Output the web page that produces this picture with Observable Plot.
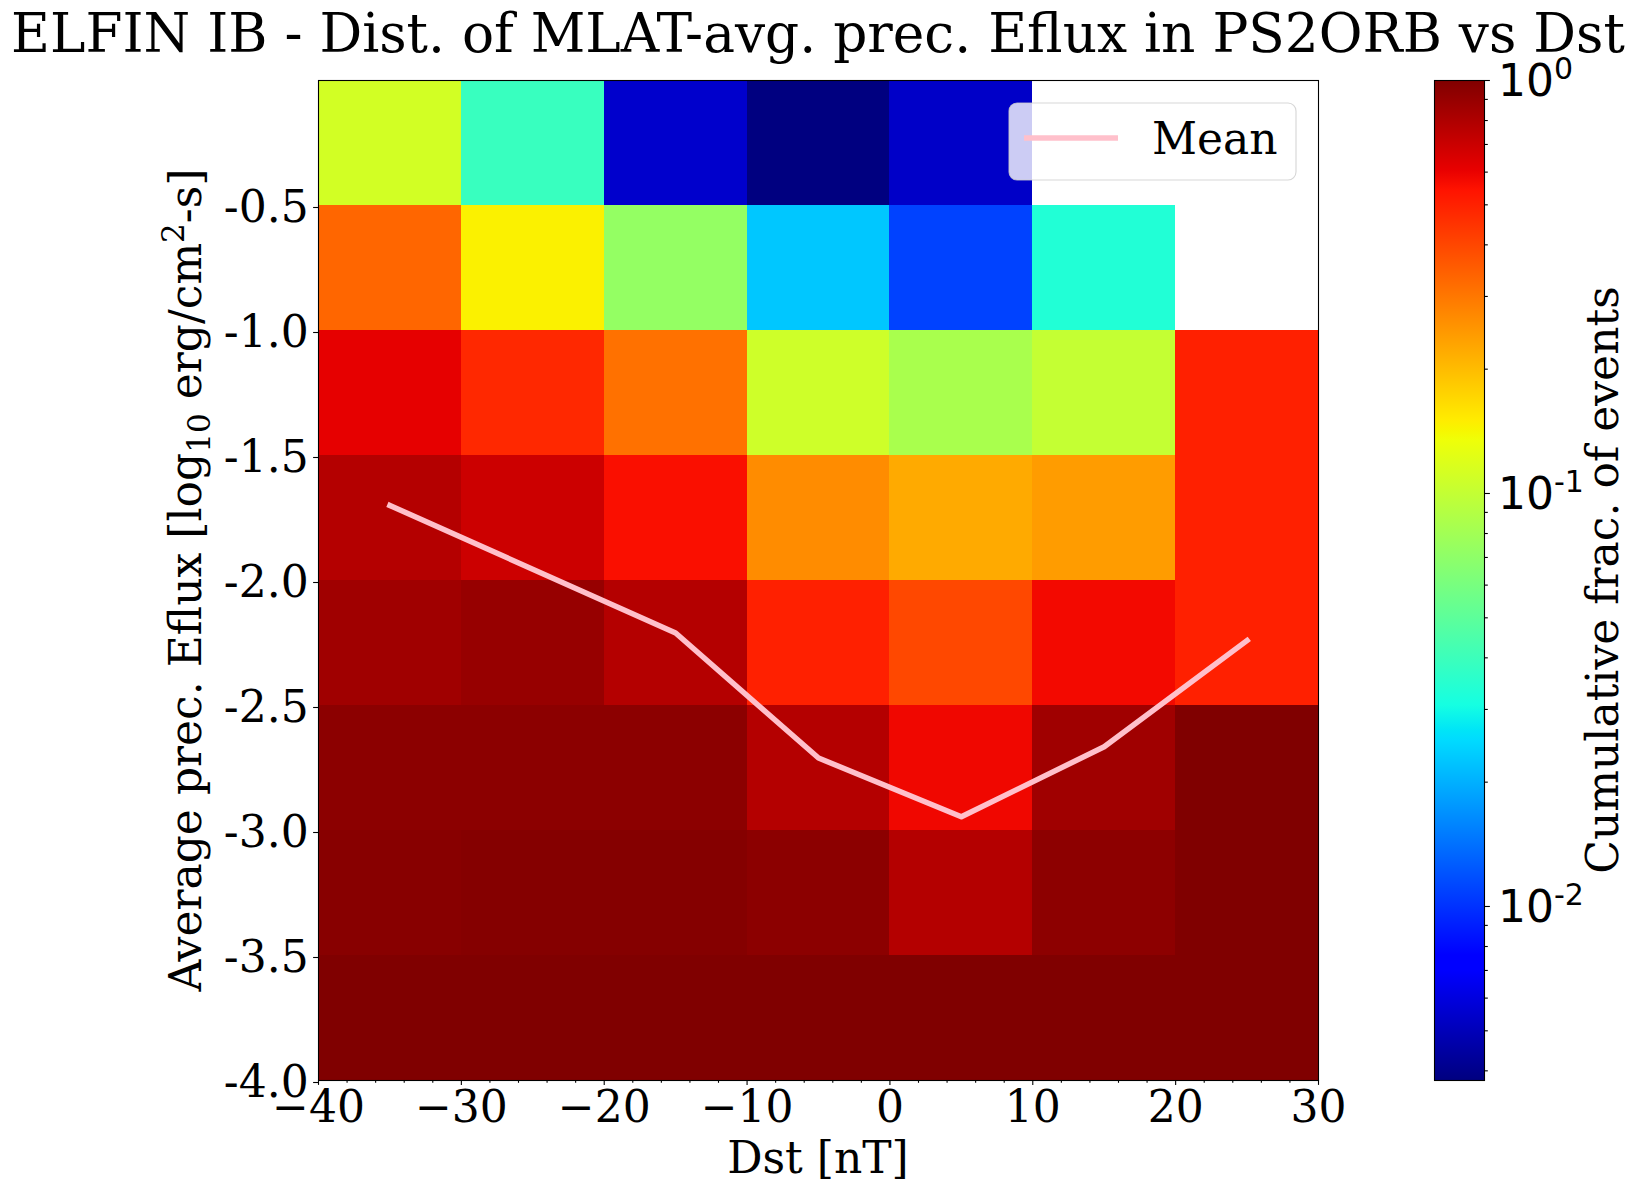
<!DOCTYPE html>
<html><head><meta charset="utf-8">
<script src="https://cdn.jsdelivr.net/npm/d3@7"></script>
<script src="https://cdn.jsdelivr.net/npm/@observablehq/plot@0.6"></script>
<style>
html,body{margin:0;padding:0;background:#fff;overflow:hidden;}
#wrap{position:relative;width:1638px;height:1192px;}
#wrap svg{position:absolute;left:0;top:0;}
</style></head><body><div id="wrap"></div>
<script>
// ---- data ----
const dstEdges = [-40, -30, -20, -10, 0, 10, 20, 30];
const efluxEdges = [-4.0, -3.5, -3.0, -2.5, -2.0, -1.5, -1.0, -0.5, 0.0];
// cumulative fraction of events per Dst bin, from lowest Eflux bin (-4.0..-3.5) upward
const fracDstM40 = [1, 0.962, 0.940, 0.855, 0.778, 0.612, 0.332, 0.111];
const fracDstM30 = [1, 0.972, 0.940, 0.895, 0.692, 0.477, 0.146, 0.039];
const fracDstM20 = [1, 0.972, 0.940, 0.778, 0.554, 0.310, 0.0728, 0.00548];
const fracDstM10 = [1, 0.940, 0.778, 0.501, 0.265, 0.1076, 0.0226, 0.00379];
const fracDst0   = [1, 0.778, 0.582, 0.396, 0.222, 0.0841, 0.01094, 0.00536];
const fracDst10  = [1, 0.935, 0.855, 0.573, 0.241, 0.1006, 0.0334, null];
const fracDst20  = [1, 1, 1, 0.501, 0.501, 0.501, null, null];
const meanDst   = [-35, -15, -5, 5, 15, 25];
const meanEflux = [-1.70, -2.21, -2.71, -2.945, -2.665, -2.24];
const xTicks = [-40, -30, -20, -10, 0, 10, 20, 30];
const xMinorTicks = [-38,-36,-34,-32,-28,-26,-24,-22,-18,-16,-14,-12,-8,-6,-4,-2,2,4,6,8,12,14,16,18,22,24,26,28];
const yTicks = [-4.0, -3.5, -3.0, -2.5, -2.0, -1.5, -1.0, -0.5];
const cbMin = 0.00379;
const cbMajorTicks = [0.01, 0.1, 1];
const cbMajorExp = ["-2", "-1", "0"];
const cbMinorTicks = [0.004,0.005,0.006,0.007,0.008,0.009,0.02,0.03,0.04,0.05,0.06,0.07,0.08,0.09,0.2,0.3,0.4,0.5,0.6,0.7,0.8,0.9];

// ---- jet colormap ----
const jetR = [[0,0],[0.35,0],[0.66,1],[0.89,1],[1,0.5]];
const jetG = [[0,0],[0.125,0],[0.375,1],[0.64,1],[0.91,0],[1,0]];
const jetB = [[0,0.5],[0.11,1],[0.34,1],[0.65,0],[1,0]];
function pw(t, pts){ t = Math.max(0, Math.min(1, t));
  for (let i = 1; i < pts.length; i++) if (t <= pts[i][0]) { const [a0,b0] = pts[i-1], [a1,b1] = pts[i]; return b0 + (b1-b0)*(t-a0)/(a1-a0); }
  return pts[pts.length-1][1]; }
function jet(t){ const c = v => Math.round(255*v); return `rgb(${c(pw(t,jetR))},${c(pw(t,jetG))},${c(pw(t,jetB))})`; }
const jetKnots = [0,0.11,0.125,0.34,0.35,0.375,0.64,0.65,0.66,0.89,0.91,1];

// ---- build tables ----
const columns = [fracDstM40, fracDstM30, fracDstM20, fracDstM10, fracDst0, fracDst10, fracDst20];
const cells = [];
columns.forEach((vals, i) => vals.forEach((v, j) => {
  if (v != null) cells.push({x1: dstEdges[i], x2: dstEdges[i+1], y1: efluxEdges[j], y2: efluxEdges[j+1], v});
}));
const mean = meanDst.map((d, i) => ({x: d, y: meanEflux[i]}));

const W = 1638, H = 1192, mT = 80, mB = 112;
const FONT = 44;
const LW = 5.5;
const fmtX = d => d < 0 ? "\u2212" + Math.abs(d) : String(d);

const main = Plot.plot({
  width: W, height: H, marginLeft: 318, marginRight: 320, marginTop: mT, marginBottom: mB,
  style: {fontFamily: "'DejaVu Serif'", fontSize: FONT + "px", background: "white", color: "black"},
  x: {domain: [-40, 30]},
  y: {domain: [-4, 0]},
  color: {type: "log", domain: [cbMin, 1], interpolate: jet},
  marks: [
    Plot.rect(cells, {x1: "x1", x2: "x2", y1: "y1", y2: "y2", fill: "v", shapeRendering: "crispEdges"}),
    Plot.line(mean, {x: "x", y: "y", stroke: "#ffc0cb", strokeWidth: LW, strokeLinecap: "square", strokeLinejoin: "round"}),
    Plot.frame({stroke: "black", strokeWidth: 1.1}),
    Plot.axisX({ticks: xMinorTicks, tickSize: 2.8, tickFormat: () => "", label: null, strokeWidth: 1.1}),
    Plot.axisX({ticks: xTicks, tickSize: 4.9, tickPadding: 4.9, tickFormat: fmtX, label: null, strokeWidth: 1.1, fontSize: FONT}),
    Plot.axisY({ticks: yTicks, tickSize: 4.9, tickPadding: 4.9, tickFormat: d => d.toFixed(1), label: null, strokeWidth: 1.1, fontSize: FONT, dy: 2})
  ]
});

function colorbarFill(index, scales, values, dims) {
  const ns = "http://www.w3.org/2000/svg";
  const g = document.createElementNS(ns, "g");
  const defs = document.createElementNS(ns, "defs");
  const lg = document.createElementNS(ns, "linearGradient");
  lg.setAttribute("id", "jetGrad");
  lg.setAttribute("x1", "0"); lg.setAttribute("y1", "1"); lg.setAttribute("x2", "0"); lg.setAttribute("y2", "0");
  jetKnots.forEach(k => { const s = document.createElementNS(ns, "stop"); s.setAttribute("offset", k); s.setAttribute("stop-color", jet(k)); lg.appendChild(s); });
  defs.appendChild(lg); g.appendChild(defs);
  const r = document.createElementNS(ns, "rect");
  r.setAttribute("x", dims.marginLeft); r.setAttribute("y", dims.marginTop);
  r.setAttribute("width", dims.width - dims.marginLeft - dims.marginRight);
  r.setAttribute("height", dims.height - dims.marginTop - dims.marginBottom);
  r.setAttribute("fill", "url(#jetGrad)");
  g.appendChild(r);
  return g;
}

const cb = Plot.plot({
  width: W, height: H, marginLeft: 1434, marginRight: 154, marginTop: mT, marginBottom: mB,
  style: {fontFamily: "'DejaVu Sans'", fontSize: FONT + "px", background: "none", color: "black"},
  y: {type: "log", domain: [cbMin, 1]},
  marks: [
    colorbarFill,
    Plot.frame({stroke: "black", strokeWidth: 1.1}),
    Plot.axisY({anchor: "right", ticks: cbMinorTicks, tickSize: 2.8, tickFormat: () => "", label: null, strokeWidth: 1.1}),
    Plot.axisY({anchor: "right", ticks: cbMajorTicks, tickSize: 4.9, tickFormat: () => "", label: null, strokeWidth: 1.1})
  ]
});

const wrap = document.getElementById("wrap");
wrap.appendChild(main);
wrap.appendChild(cb);

const ns = "http://www.w3.org/2000/svg";
function txt(svg, str, attrs) {
  const t = document.createElementNS(ns, "text");
  t.setAttribute("text-anchor", "start");
  for (const k in attrs) t.setAttribute(k, attrs[k]);
  if (str != null) t.textContent = str;
  svg.appendChild(t); return t;
}
function tsp(parent, str, attrs) {
  const t = document.createElementNS(ns, "tspan");
  for (const k in attrs) t.setAttribute(k, attrs[k]);
  t.textContent = str; parent.appendChild(t); return t;
}

// title (auto-fit width to reference)
const title = txt(main, "ELFIN IB - Dist. of MLAT-avg. prec. Eflux in PS2ORB vs Dst",
  {x: 818, y: 52, "text-anchor": "middle", "font-family": "DejaVu Serif", "font-size": 52, fill: "black"});
const tl = title.getComputedTextLength();
if (tl > 0) title.setAttribute("font-size", (52 * 1614 / tl).toFixed(2));

// x label
txt(main, "Dst [nT]", {x: 818, y: 1173, "text-anchor": "middle", "font-family": "DejaVu Serif", "font-size": FONT, fill: "black"});

// y label with sub/superscripts
const yl = txt(main, null, {transform: "translate(201,580) rotate(-90)", "text-anchor": "middle", "font-family": "DejaVu Serif", "font-size": FONT, fill: "black"});
tsp(yl, "Average prec. Eflux [log", {});
tsp(yl, "10", {dy: 9, "font-size": 31});
tsp(yl, " erg/cm", {dy: -9});
tsp(yl, "2", {dy: -17, "font-size": 31});
tsp(yl, "-s]", {dy: 17});

// legend
const lr = document.createElementNS(ns, "rect");
[["x",1009],["y",103],["width",287],["height",77],["rx",8],["fill","white"],["fill-opacity",0.8],["stroke","#cccccc"],["stroke-opacity",0.8],["stroke-width",1.1]].forEach(([k,v]) => lr.setAttribute(k, v));
main.appendChild(lr);
const ll = document.createElementNS(ns, "line");
[["x1",1024],["x2",1118],["y1",138],["y2",138],["stroke","#ffc0cb"],["stroke-width",LW]].forEach(([k,v]) => ll.setAttribute(k, v));
main.appendChild(ll);
txt(main, "Mean", {x: 1152, y: 154, "font-family": "DejaVu Serif", "font-size": FONT, fill: "black"});

// colorbar tick labels and label
const ys = cb.scale("y");
cbMajorTicks.forEach((v, i) => {
  const yy = ys.apply(v);
  const t = txt(cb, null, {x: 1498, y: yy + 16, "font-family": "DejaVu Sans", "font-size": FONT, fill: "black"});
  tsp(t, "10", {});
  tsp(t, cbMajorExp[i], {dy: -17, "font-size": 30});
});
txt(cb, "Cumulative frac. of events", {transform: "translate(1618,580) rotate(-90)", "text-anchor": "middle", "font-family": "DejaVu Serif", "font-size": FONT, fill: "black"});
</script></body></html>
